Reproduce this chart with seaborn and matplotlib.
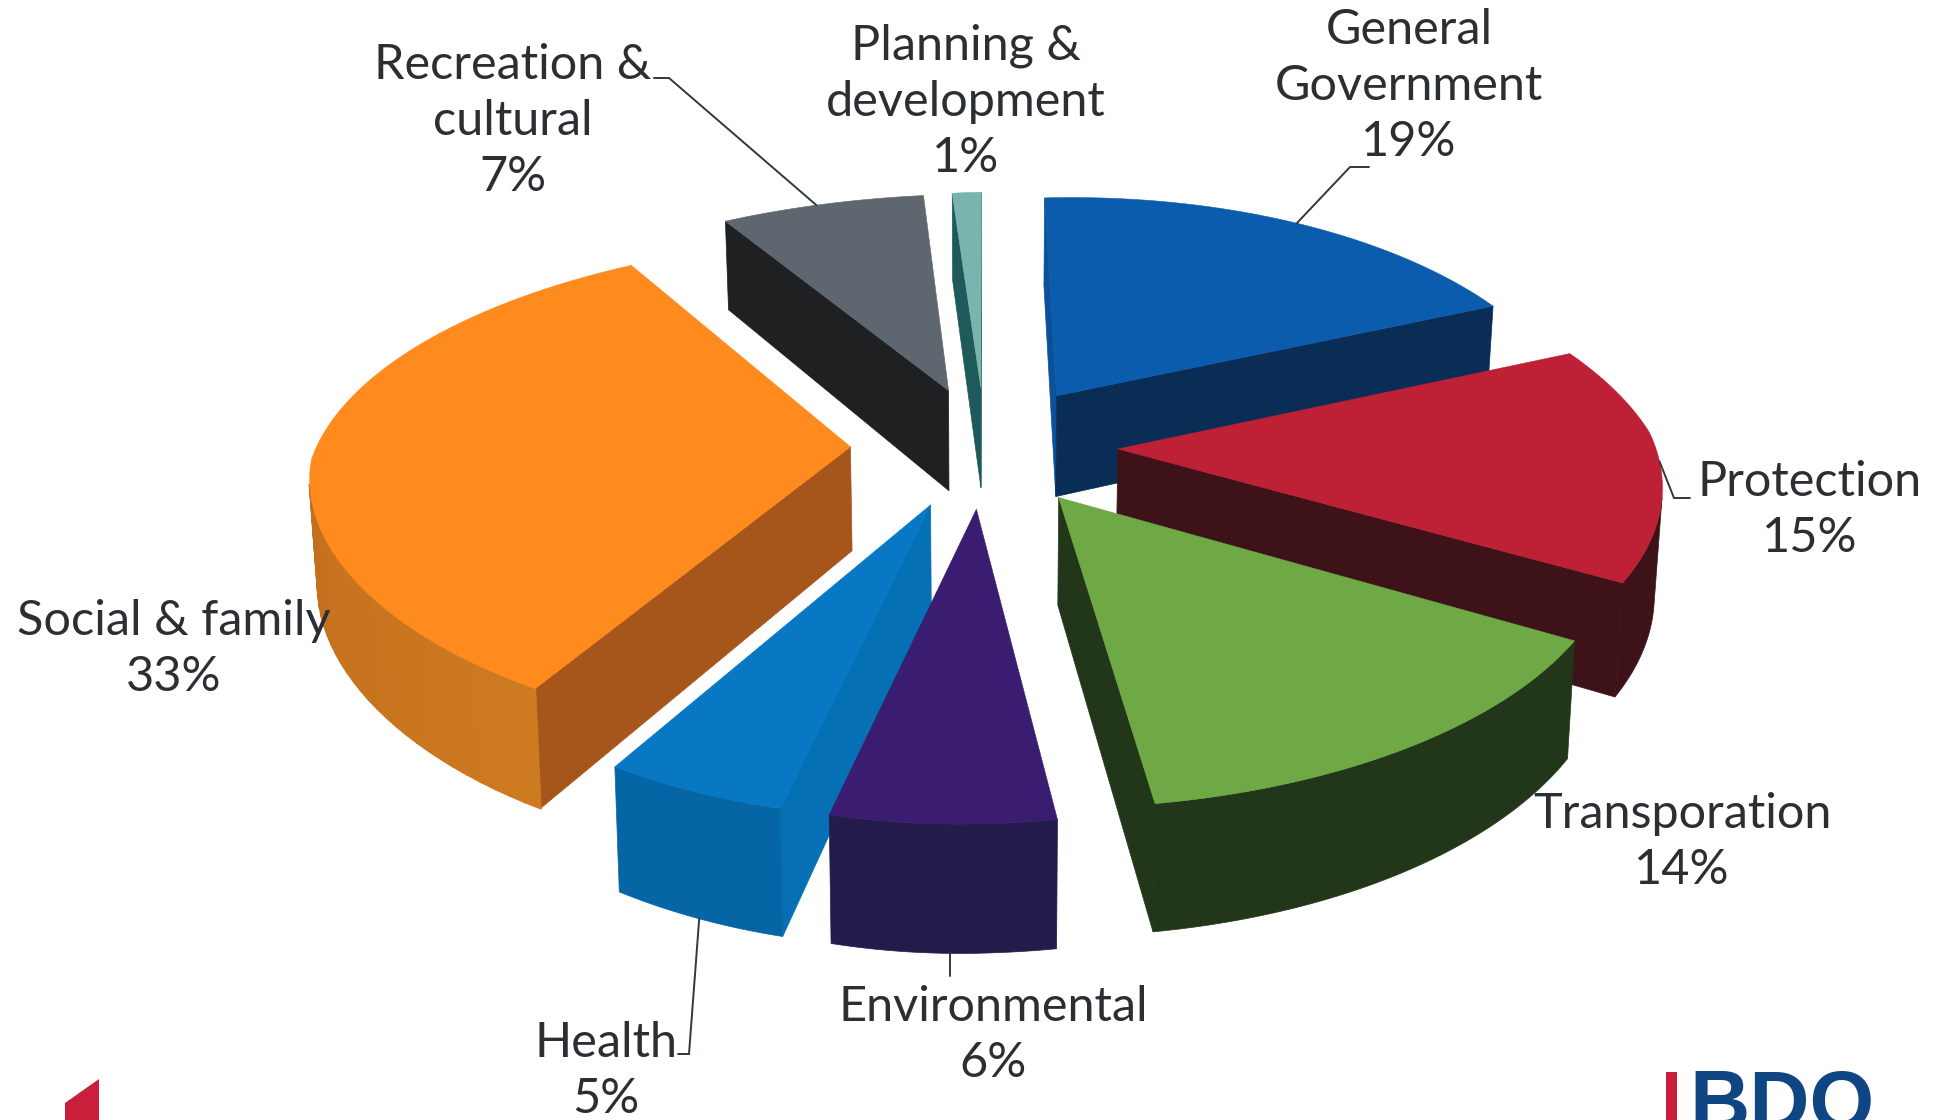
import numpy as np
import matplotlib
matplotlib.use("Agg")
import matplotlib.pyplot as plt
import seaborn as sns

# Budget shares in percent, clockwise from twelve o'clock
categories = ["General\nGovernment", "Protection", "Transporation", "Environmental",
              "Health", "Social & family", "Recreation &\ncultural", "Planning &\ndevelopment"]
shares = [19, 15, 14, 6, 5, 33, 7, 1]

top_colors = ["#0B5CAD", "#BE2035", "#6EA945", "#3A1C71", "#0877C4", "#FF8A1E", "#5E6670", "#78B5AE"]
outer_colors = [("#0A3A70", "#0A3A70"), ("#3E1219", "#3E1219"), ("#22361A", "#22361A"), ("#231B4B", "#231B4B"),
                ("#0565A5", "#0565A5"), ("#CE7A20", "#B5601C"), ("#2A2C30", "#2A2C30"), ("#1F5A5A", "#1F5A5A")]
start_face = ["#0A509A", "#3E1219", "#22361A", "#2A1660", "#0670B4", "#A6561A", "#1E2022", "#1F5A5A"]
end_face = ["#0A2D55", "#3E1219", "#22361A", "#2A1660", "#0670B4", "#A6561A", "#1E2022", "#1F5A5A"]
draw_order = [7, 6, 0, 5, 1, 2, 4, 3]

# Projection of the tilted disc on to the page
CX, CY, RX, RX_LEFT, RY, DEPTH, INWARD, ROLL = 985, 446, 532, 539, 243, 104, 0.012, 11
TILT, TILT_FRONT_LEFT, TILT_BACK_LEFT, TILT_BACK_RIGHT = 0.157, 0.07, 0.13, 0.21
EXPLODE = 0.25
SEGMENTS = 60

sns.set_theme(style="white")
plt.rcParams["font.family"] = ["Lato", "DejaVu Sans"]
top_palette = sns.color_palette(top_colors)


def project(x, y, base=False):
    x, y = np.asarray(x, float), np.asarray(y, float)
    w = 1 - TILT * y
    # The horizontal foreshortening differs per quadrant
    tilt_x = np.where(x < 0,
                      np.where(y < 0, TILT_BACK_LEFT, TILT_FRONT_LEFT),
                      np.where(y < 0, TILT_BACK_RIGHT, TILT))
    sx = CX + np.where(x < 0, RX_LEFT, RX) * x / (1 - tilt_x * y)
    sy = CY + RY * y / w - ROLL * x
    if base:
        sy = sy + DEPTH / w
        sx = CX + (sx - CX) * (1 - INWARD)
    return sx, sy


def ring(theta, off):
    return off[0] + np.sin(theta), off[1] - np.cos(theta)


def signed_area(px, py):
    return 0.5 * np.sum(px * np.roll(py, -1) - np.roll(px, -1) * py)


def wall(a, b):
    """Outline of the vertical wall between two disc points."""
    ax0, ay0 = project(*a)
    bx0, by0 = project(*b)
    ax1, ay1 = project(*a, base=True)
    bx1, by1 = project(*b, base=True)
    return np.array([ax0, bx0, bx1, ax1], float), np.array([ay0, by0, by1, ay1], float)


def lerp(c1, c2, t):
    return tuple(np.array(matplotlib.colors.to_rgb(c1)) * (1 - t) + np.array(matplotlib.colors.to_rgb(c2)) * t)


edges = np.radians(np.concatenate([[0], np.cumsum(shares)]) * 3.6)

fig = plt.figure(figsize=(19.42, 11.2), dpi=100, facecolor="white")
ax = fig.add_axes([0, 0, 1, 1])
ax.set_xlim(0, 1942)
ax.set_ylim(1120, 0)
ax.axis("off")

for i in draw_order:
    t0, t1 = edges[i], edges[i + 1]
    mid = (t0 + t1) / 2
    off = (EXPLODE * np.sin(mid), -EXPLODE * np.cos(mid))
    thetas = np.linspace(t0, t1, SEGMENTS + 1)

    # Radial faces, back faces skipped
    for px, py, color in [(*wall(off, ring(t0, off)), start_face[i]),
                          (*wall(ring(t1, off), off), end_face[i])]:
        if signed_area(px, py) < 0:
            ax.fill(px, py, color=color, lw=0.5, zorder=2)

    # Curved rim: one outline when its colour is flat, narrow steps for a gradient
    segs = [wall(ring(thetas[j], off), ring(thetas[j + 1], off)) for j in range(SEGMENTS)]
    visible = [j for j, (px, py) in enumerate(segs) if signed_area(px, py) < 0]
    if visible:
        first, second = outer_colors[i]
        if first == second:
            upper_x = [segs[j][0][0] for j in visible] + [segs[visible[-1]][0][1]]
            upper_y = [segs[j][1][0] for j in visible] + [segs[visible[-1]][1][1]]
            lower_x = [segs[j][0][3] for j in visible] + [segs[visible[-1]][0][2]]
            lower_y = [segs[j][1][3] for j in visible] + [segs[visible[-1]][1][2]]
            ax.fill(upper_x + lower_x[::-1], upper_y + lower_y[::-1], color=first, lw=0.5, zorder=2)
        else:
            for j in visible:
                ax.fill(*segs[j], color=lerp(first, second, j / (SEGMENTS - 1)), lw=1.5, zorder=2)

    # Top surface
    rx, ry = ring(thetas, off)
    sx, sy = project(np.r_[off[0], rx], np.r_[off[1], ry])
    ax.fill(sx, sy, color=top_palette[i], lw=0.4, zorder=2)

# Leader lines: slice index, position along its rim, rim level, elbow and label-side end
leaders = [
    (6, 0.47, False, (669, 78), (654, 78)),
    (0, 0.51, False, (1350, 167), (1369, 167)),
    (1, 0.50, False, (1674, 498), (1690, 498)),
    (4, 0.49, True, (689, 1054), (678, 1054)),
    (3, 0.45, True, None, 976),
]
for idx, frac, base, elbow, end in leaders:
    t = edges[idx] + frac * (edges[idx + 1] - edges[idx])
    m = (edges[idx] + edges[idx + 1]) / 2
    off = (EXPLODE * np.sin(m), -EXPLODE * np.cos(m))
    sx, sy = project(*ring(t, off), base=base)
    sx, sy = float(sx), float(sy)
    if elbow is None:
        xs, ys = [sx, sx], [sy, end]
    else:
        xs, ys = [sx, elbow[0], end[0]], [sy, elbow[1], end[1]]
    ax.plot(xs, ys, color="#33383c", lw=1.4, zorder=3, solid_joinstyle="miter")

# Category labels with their shares
label_centres = [(1409, 86), (1810, 510), (1682, 842), (993, 1035),
                 (606, 1071), (174, 649), (513, 121), (966, 102)]
for name, share, (lx, ly) in zip(categories, shares, label_centres):
    ax.text(lx, ly, f"{name}\n{share}%", ha="center", va="center", fontsize=35,
            color="#2b2f33", linespacing=1.33, zorder=4)

# Corporate marks along the bottom edge
ax.fill([65, 99, 99, 65], [1103, 1079, 1120, 1120], color="#C8203A", lw=0, zorder=1)
ax.fill([1666, 1677, 1677, 1666], [1072, 1072, 1120, 1120], color="#C8203A", lw=0, zorder=1)
ax.text(1689, 1129, "BDO", ha="left", va="baseline", fontsize=60, fontweight="bold",
        family="Liberation Sans", color="#0F4583", zorder=1)

fig.savefig("out.png", dpi=100, facecolor="white")
